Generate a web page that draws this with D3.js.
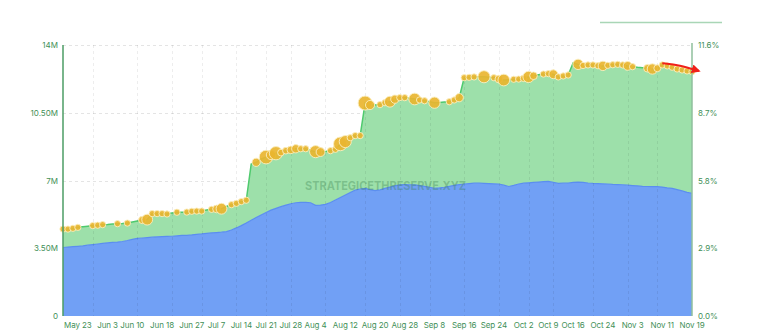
<!DOCTYPE html>
<html>
<head>
<meta charset="utf-8">
<script src="https://cdn.jsdelivr.net/npm/d3@7/dist/d3.min.js"></script>
<style>
  html, body { margin: 0; padding: 0; background: #fff; }
  svg { display: block; font-family: Inter, "Liberation Sans", Arial, sans-serif; }
</style>
</head>
<body>
<svg id="chart" width="764" height="336"></svg>
<script>
// Trading days shown on the x axis
const dates = [
  "May 20","May 21","May 22","May 23","May 27","May 28","May 29","May 30",
  "Jun 2","Jun 3","Jun 4","Jun 5","Jun 6","Jun 9","Jun 10","Jun 11","Jun 12","Jun 13",
  "Jun 16","Jun 17","Jun 18","Jun 20","Jun 23","Jun 24","Jun 25","Jun 26","Jun 27","Jun 30",
  "Jul 1","Jul 2","Jul 3","Jul 7","Jul 8","Jul 9","Jul 10","Jul 11","Jul 14","Jul 15",
  "Jul 16","Jul 17","Jul 18","Jul 21","Jul 22","Jul 23","Jul 24","Jul 25","Jul 28","Jul 29",
  "Jul 30","Jul 31","Aug 1","Aug 4","Aug 5","Aug 6","Aug 7","Aug 8","Aug 11","Aug 12",
  "Aug 13","Aug 14","Aug 15","Aug 18","Aug 19","Aug 20","Aug 21","Aug 22","Aug 25","Aug 26",
  "Aug 27","Aug 28","Aug 29","Sep 2","Sep 3","Sep 4","Sep 5","Sep 8","Sep 9","Sep 10",
  "Sep 11","Sep 12","Sep 15","Sep 16","Sep 17","Sep 18","Sep 19","Sep 22","Sep 23","Sep 24",
  "Sep 25","Sep 26","Sep 29","Sep 30","Oct 1","Oct 2","Oct 3","Oct 6","Oct 7","Oct 8",
  "Oct 9","Oct 10","Oct 13","Oct 14","Oct 15","Oct 16","Oct 17","Oct 20","Oct 21","Oct 22",
  "Oct 23","Oct 24","Oct 27","Oct 28","Oct 29","Oct 30","Oct 31","Nov 3","Nov 4","Nov 5",
  "Nov 6","Nov 7","Nov 10","Nov 11","Nov 12","Nov 13","Nov 14","Nov 17","Nov 18","Nov 19"
];

// Total ETH held (millions) — top of the green band
const totalHoldings = [
  4.49,4.49,4.53,4.58,4.61,4.64,4.67,4.69,4.72,4.73,4.75,4.77,4.78,4.80,4.86,4.91,4.96,4.98,
  5.29,5.29,5.29,5.27,5.32,5.36,5.36,5.37,5.41,5.42,5.42,5.48,5.51,5.53,5.54,5.66,5.75,5.82,
  5.91,5.98,7.85,7.94,8.11,8.21,8.32,8.41,8.44,8.54,8.58,8.64,8.64,8.64,8.55,8.49,8.47,8.50,
  8.54,8.61,8.89,9.01,9.21,9.32,9.32,11.00,10.90,10.90,10.92,11.02,11.07,11.20,11.28,11.28,
  11.25,11.21,11.16,11.12,11.07,11.02,11.03,11.05,11.07,11.16,11.28,12.31,12.33,12.35,12.36,
  12.36,12.34,12.31,12.24,12.19,12.21,12.23,12.24,12.28,12.35,12.41,12.46,12.50,12.52,12.49,
  12.35,12.40,12.45,13.07,13.00,12.94,12.97,12.97,12.93,12.92,12.95,12.98,13.00,12.97,12.92,
  12.88,12.85,12.83,12.80,12.76,12.80,12.97,12.92,12.85,12.76,12.71,12.66,12.62
];

// ETH held through ETFs (millions) — the blue band
const etfHoldings = [
  3.54,3.56,3.58,3.60,3.62,3.66,3.69,3.72,3.75,3.78,3.80,3.82,3.85,3.90,3.96,4.01,4.03,4.05,
  4.07,4.09,4.10,4.11,4.12,4.14,4.16,4.17,4.19,4.22,4.24,4.27,4.29,4.31,4.33,4.36,4.44,4.55,
  4.67,4.80,4.95,5.09,5.22,5.35,5.47,5.56,5.65,5.73,5.80,5.85,5.87,5.87,5.85,5.72,5.73,5.77,
  5.86,5.99,6.12,6.25,6.38,6.50,6.56,6.59,6.53,6.48,6.52,6.59,6.66,6.72,6.77,6.79,6.78,6.77,
  6.74,6.70,6.65,6.60,6.62,6.65,6.70,6.75,6.79,6.82,6.84,6.86,6.86,6.85,6.84,6.83,6.82,6.76,
  6.69,6.75,6.82,6.86,6.88,6.90,6.92,6.94,6.95,6.90,6.85,6.86,6.87,6.90,6.92,6.90,6.87,6.85,
  6.84,6.83,6.82,6.80,6.79,6.78,6.76,6.74,6.72,6.70,6.69,6.68,6.68,6.66,6.62,6.59,6.53,6.46,
  6.39,6.34
];

// Treasury ETH added per day (thousands), null where nothing was reported
const dailyAdded = [
  40,40,40,40,null,null,40,40,40,null,null,40,null,40,null,null,55,120,
  40,40,40,40,null,40,null,40,40,40,40,null,40,60,120,null,40,40,
  40,40,null,70,null,190,90,180,45,45,60,70,40,40,null,150,80,null,
  40,40,190,150,40,40,40,200,85,null,40,40,120,70,40,40,
  null,140,40,40,null,130,null,null,40,40,70,40,40,40,null,
  150,null,40,60,140,null,40,40,45,130,60,null,40,40,80,
  40,40,40,null,110,40,40,40,40,90,40,40,40,40,80,
  40,null,null,60,110,50,40,40,40,40,40,40,40
];

const xTickLabels = ["May 23","Jun 3","Jun 10","Jun 18","Jun 27","Jul 7","Jul 14","Jul 21",
  "Jul 28","Aug 4","Aug 12","Aug 20","Aug 28","Sep 8","Sep 16","Sep 24","Oct 2","Oct 9",
  "Oct 16","Oct 24","Nov 3","Nov 11","Nov 19"];
const gridDates = ["May 29","Jun 11","Jun 23","Jul 1","Jul 11","Jul 21","Jul 28","Aug 6",
  "Aug 18","Aug 27","Sep 5","Sep 16","Sep 25","Oct 3","Oct 10","Oct 22","Oct 31","Nov 10"];
const leftTicks = [0, 3.5, 7, 10.5, 14];
const leftTickLabels = ["0", "3.50M", "7M", "10.50M", "14M"];
const rightTicks = [0, 2.9, 5.8, 8.7, 11.6];
const rightTickLabels = ["0.0%", "2.9%", "5.8%", "8.7%", "11.6%"];
// Trend annotation: [position along the date axis, holdings in millions]
const trendArrow = [[121, 13.06], [124.5, 12.97], [128.4, 12.66]];

const svg = d3.select("#chart");
const m = { left: 63, right: 692, top: 45, bottom: 316 };

const xIdx = d3.scaleLinear().domain([0, dates.length - 1]).range([m.left, m.right]);
const x = d => xIdx(dates.indexOf(d));
const y = d3.scaleLinear().domain([0, 14]).range([m.bottom, m.top]);
const yPct = d3.scaleLinear().domain([0, 11.6]).range([m.bottom, m.top]);
const r = d3.scaleSqrt().domain([0, 200]).range([0, 7]);

const rows = dates.map((d, i) => ({ d, i, total: totalHoldings[i], etf: etfHoldings[i], add: dailyAdded[i] }));

// Thin bar at the top right
svg.append("line").attr("x1", 600).attr("x2", 722).attr("y1", 22.5).attr("y2", 22.5)
  .attr("stroke", "#a9d6b6").attr("stroke-width", 1.5);

// Horizontal grid
svg.append("g").selectAll("line").data(leftTicks.filter(t => t > 0)).join("line")
  .attr("x1", m.left).attr("x2", m.right)
  .attr("y1", d => Math.round(y(d)) + 0.5).attr("y2", d => Math.round(y(d)) + 0.5)
  .attr("stroke", "#e4e4e4").attr("stroke-dasharray", "3,3");

// Stacked areas
const areaGreen = d3.area().x(d => xIdx(d.i)).y0(d => y(d.etf)).y1(d => y(d.total));
const areaBlue = d3.area().x(d => xIdx(d.i)).y0(y(0)).y1(d => y(d.etf));
svg.append("path").datum(rows).attr("d", areaGreen).attr("fill", "#9de0aa");
svg.append("path").datum(rows).attr("d", areaBlue).attr("fill", "#71a0f5");
svg.append("path").datum(rows).attr("d", d3.line().x(d => xIdx(d.i)).y(d => y(d.etf)))
  .attr("fill", "none").attr("stroke", "#5b8eef").attr("stroke-width", 1.2);
svg.append("path").datum(rows).attr("d", d3.line().x(d => xIdx(d.i)).y(d => y(d.total)))
  .attr("fill", "none").attr("stroke", "#4fca6e").attr("stroke-width", 1.5);

// Vertical grid over the areas
svg.append("g").selectAll("line").data(gridDates).join("line")
  .attr("x1", d => Math.round(x(d)) + 0.5).attr("x2", d => Math.round(x(d)) + 0.5)
  .attr("y1", m.top).attr("y2", m.bottom)
  .attr("stroke", "rgba(0,0,0,0.07)").attr("stroke-dasharray", "3,3");

// Watermark
svg.append("text").attr("x", 385.5).attr("y", 190)
  .attr("text-anchor", "middle").attr("font-size", 11.5).attr("font-weight", 700)
  .attr("textLength", 161).attr("lengthAdjust", "spacingAndGlyphs")
  .attr("fill", "rgba(60,130,80,0.35)")
  .text("STRATEGICETHRESERVE.XYZ");

// Purchase bubbles on the total line
svg.append("g").selectAll("circle").data(rows.filter(d => d.add != null)).join("circle")
  .attr("cx", d => xIdx(d.i)).attr("cy", d => y(d.total)).attr("r", d => r(d.add))
  .attr("fill", "#e9b530").attr("fill-opacity", 0.92)
  .attr("stroke", "#fbeec0").attr("stroke-width", 0.9);

// Axes
const axisColor = "#3f9058";
svg.append("line").attr("x1", m.left).attr("x2", m.left).attr("y1", m.top).attr("y2", m.bottom)
  .attr("stroke", "#4c9c64").attr("stroke-width", 1.5);
svg.append("line").attr("x1", m.right).attr("x2", m.right).attr("y1", m.top - 2).attr("y2", m.bottom)
  .attr("stroke", "#8fbf9d").attr("stroke-width", 1.5);

svg.append("g").selectAll("text").data(leftTicks).join("text")
  .attr("x", m.left - 5).attr("y", d => y(d) + 3)
  .attr("text-anchor", "end").attr("font-size", 8).attr("fill", axisColor)
  .text((d, i) => leftTickLabels[i]);

svg.append("g").selectAll("text").data(rightTicks).join("text")
  .attr("x", m.right + 6).attr("y", d => yPct(d) + 3)
  .attr("text-anchor", "start").attr("font-size", 8).attr("fill", axisColor)
  .text((d, i) => rightTickLabels[i]);

svg.append("g").selectAll("text").data(xTickLabels).join("text")
  .attr("x", d => x(d)).attr("y", 328)
  .attr("text-anchor", "middle").attr("font-size", 8).attr("letter-spacing", -0.1)
  .attr("fill", axisColor)
  .text(d => d);

// Trend arrow
const defs = svg.append("defs");
defs.append("marker").attr("id", "arrowHead").attr("viewBox", "0 0 10 10")
  .attr("refX", 8).attr("refY", 5).attr("markerWidth", 4.5).attr("markerHeight", 4.5)
  .attr("orient", "auto").attr("markerUnits", "strokeWidth")
  .append("path").attr("d", "M0,0 L10,5 L0,10 Z").attr("fill", "#f0201a");
svg.append("path").datum(trendArrow)
  .attr("d", d3.line().curve(d3.curveBasis).x(d => xIdx(d[0])).y(d => y(d[1])))
  .attr("fill", "none").attr("stroke", "#f0201a").attr("stroke-width", 2)
  .attr("marker-end", "url(#arrowHead)");
</script>
</body>
</html>
